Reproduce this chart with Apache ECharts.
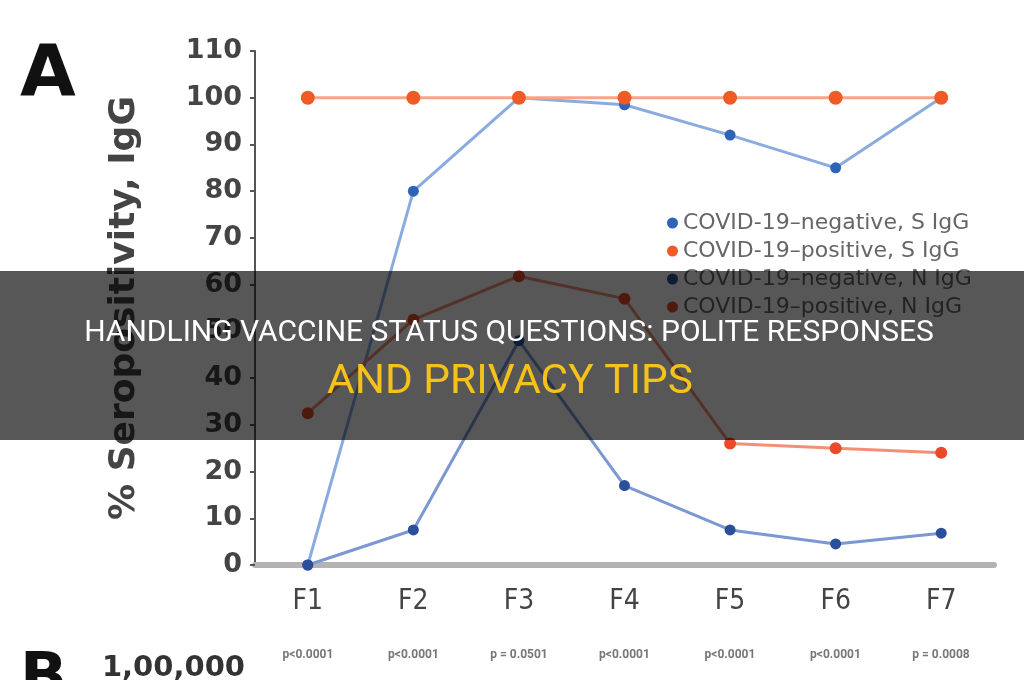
<!DOCTYPE html>
<html>
<head>
<meta charset="utf-8">
<script src="https://cdn.jsdelivr.net/npm/echarts@6/dist/echarts.min.js"></script>
<style>
html,body{margin:0;padding:0;background:#fff;}
#c{width:1024px;height:680px;}
</style>
</head>
<body>
<div id="c"></div>
<script>
const categories = ['F1','F2','F3','F4','F5','F6','F7'];
const yTicks = [0,10,20,30,40,50,60,70,80,90,100,110];
const seriesNames = ['COVID-19–negative, S IgG','COVID-19–positive, S IgG','COVID-19–negative, N IgG','COVID-19–positive, N IgG'];
const negS = [0, 80, 100, 98.5, 92, 85, 100];
const posS = [100, 100, 100, 100, 100, 100, 100];
const negN = [0, 7.5, 48, 17, 7.5, 4.5, 6.8];
const posN = [32.5, 52.5, 61.8, 57, 26, 25, 24];
const pValues = ['p<0.0001','p<0.0001','p = 0.0501','p<0.0001','p<0.0001','p<0.0001','p = 0.0008'];

const chart = echarts.init(document.getElementById('c'));

function mk(name, data, lineColor, markColor, size, z){
  return {
    name, type:'line', data, z,
    symbol:'circle', symbolSize:size,
    lineStyle:{color:lineColor, width:3},
    itemStyle:{color:markColor},
    emphasis:{disabled:true}
  };
}

const pGraphics = pValues.map((p,i)=>({
  type:'text', z:50,
  style:{text:p, x:308 + i*105.5, y:655, fill:'#777', font:'bold 12px Roboto', align:'center', verticalAlign:'middle'}
}));

chart.setOption({
  animation:false,
  grid:{left:255, right:30, top:51, bottom:115},
  legend:{
    orient:'vertical', left:662, top:206, itemGap:4,
    icon:'circle', itemWidth:11, itemHeight:11,
    textStyle:{color:'#666', fontSize:22, lineHeight:24, fontFamily:'DejaVu Sans'},
    data:seriesNames
  },
  xAxis:{
    type:'category', data:categories, boundaryGap:true,
    axisLine:{lineStyle:{color:'#b3b3b3', width:6}},
    axisTick:{alignWithLabel:true, length:8, lineStyle:{color:'#444', width:2}},
    axisLabel:{color:'#444', fontSize:28, margin:23, fontFamily:'DejaVu Sans Condensed'}
  },
  yAxis:{
    type:'value', min:0, max:110, interval:10,
    name:'% Seropositivity, IgG', nameLocation:'middle', nameGap:112, nameRotate:90,
    nameTextStyle:{color:'#444', fontSize:36, fontFamily:'DejaVu Sans', fontWeight:'bold'},
    splitLine:{show:false},
    axisLine:{show:true, lineStyle:{color:'#555', width:2}},
    axisTick:{show:true, length:5, lineStyle:{color:'#555', width:2}},
    axisLabel:{color:'#444', fontSize:27, margin:13, fontFamily:'DejaVu Sans', fontWeight:'bold',
      formatter:v=>yTicks.includes(v)?String(v):''}
  },
  series:[
    mk(seriesNames[0], negS, '#8aabe0', '#2f63b5', 11, 2),
    mk(seriesNames[2], negN, '#7b98d2', '#2c4f9c', 11, 3),
    mk(seriesNames[3], posN, '#f29075', '#e84a2a', 12, 4),
    mk(seriesNames[1], posS, '#f9a488', '#f05a24', 14, 5)
  ],
  graphic:[
    {type:'text', z:50, style:{text:'A', x:20, y:40, fill:'#111', font:'bold 72px DejaVu Sans'}},
    {type:'text', z:50, style:{text:'B', x:20, y:650, fill:'#111', font:'bold 62px DejaVu Sans'}},
    {type:'text', z:50, style:{text:'1,00,000', x:245, y:668, fill:'#333', font:'bold 29px DejaVu Sans', align:'right', verticalAlign:'middle'}},
    ...pGraphics,
    {type:'rect', z:100, shape:{x:0, y:271, width:1024, height:169}, style:{fill:'rgba(0,0,0,0.66)'}},
    {type:'text', z:101,
      style:{text:'HANDLING VACCINE STATUS QUESTIONS: POLITE RESPONSES', x:509, y:333, fill:'#ffffff', font:'30px Roboto', align:'center', verticalAlign:'middle'}},
    {type:'text', z:101, scaleX:1.06, originX:510, originY:383,
      style:{text:'AND PRIVACY TIPS', x:510, y:383, fill:'#f5c21b', font:'40px Roboto', align:'center', verticalAlign:'middle'}}
  ]
});
</script>
</body>
</html>
